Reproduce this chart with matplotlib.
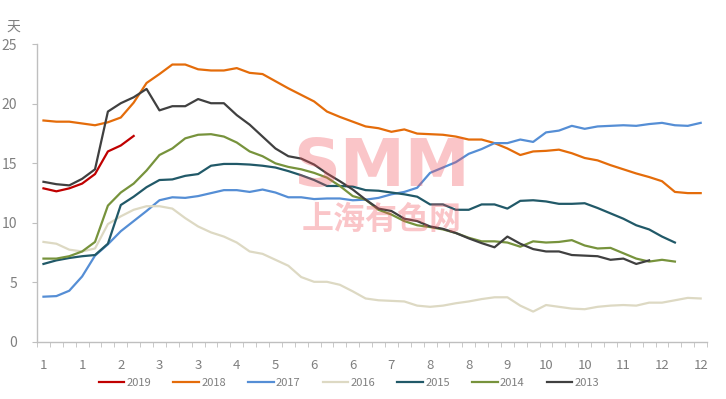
import matplotlib
matplotlib.use("Agg")
import matplotlib.pyplot as plt
import numpy as np

# weekly values, days
y2019 = [12.9, 12.65, 12.9, 13.3, 14.1, 16.0, 16.5, 17.3]
y2018 = [18.6, 18.5, 18.5, 18.35, 18.2, 18.45, 18.85, 20.1, 21.75, 22.5, 23.3, 23.3, 22.9, 22.8,
         22.8, 23.0, 22.6, 22.5, 21.9, 21.3, 20.75, 20.2, 19.35, 18.9, 18.5, 18.1, 17.95,
         17.65, 17.85, 17.5, 17.45, 17.4, 17.25, 17.0, 17.0, 16.7, 16.25, 15.7, 16.0, 16.05,
         16.15, 15.85, 15.45, 15.25, 14.85, 14.5, 14.15, 13.85, 13.5, 12.6, 12.5, 12.5]
y2017 = [3.8, 3.85, 4.3, 5.5, 7.25, 8.2, 9.3, 10.15, 11.0, 11.9, 12.15, 12.1, 12.25, 12.5,
         12.75, 12.75, 12.6, 12.8, 12.55, 12.15, 12.15, 12.0, 12.05, 12.05, 11.9, 11.95, 12.1,
         12.4, 12.6, 12.95, 14.2, 14.65, 15.1, 15.8, 16.2, 16.7, 16.7, 17.0, 16.8, 17.6,
         17.75, 18.15, 17.9, 18.1, 18.15, 18.2, 18.15, 18.3, 18.4, 18.2, 18.15, 18.4]
y2016 = [8.4, 8.25, 7.75, 7.6, 7.85, 9.9, 10.55, 11.1, 11.4, 11.4, 11.2, 10.4, 9.7, 9.2,
         8.85, 8.35, 7.6, 7.4, 6.9, 6.4, 5.45, 5.05, 5.05, 4.8, 4.25, 3.65, 3.5,
         3.45, 3.4, 3.05, 2.95, 3.05, 3.25, 3.4, 3.6, 3.75, 3.75, 3.05, 2.55, 3.1,
         2.95, 2.8, 2.75, 2.95, 3.05, 3.1, 3.05, 3.3, 3.3, 3.5, 3.7, 3.65]
y2015 = [6.55, 6.85, 7.05, 7.2, 7.3, 8.25, 11.5, 12.2, 13.0, 13.6, 13.65, 13.95, 14.1, 14.8,
         14.95, 14.95, 14.9, 14.8, 14.65, 14.35, 14.0, 13.6, 13.1, 13.1, 13.05, 12.75, 12.7,
         12.55, 12.4, 12.2, 11.55, 11.55, 11.1, 11.1, 11.55, 11.55, 11.2, 11.85, 11.9, 11.8,
         11.6, 11.6, 11.65, 11.25, 10.8, 10.35, 9.8, 9.45, 8.85, 8.35]
y2014 = [7.0, 7.0, 7.2, 7.6, 8.4, 11.45, 12.55, 13.3, 14.4, 15.7, 16.25, 17.1, 17.4, 17.45,
         17.25, 16.75, 16.0, 15.6, 15.0, 14.7, 14.5, 14.2, 13.8, 13.1, 12.25, 11.95, 11.1,
         10.7, 10.15, 9.8, 9.65, 9.45, 9.15, 8.75, 8.45, 8.45, 8.35, 8.0, 8.45, 8.35,
         8.4, 8.55, 8.1, 7.85, 7.9, 7.45, 7.0, 6.75, 6.9, 6.75]
y2013 = [13.45, 13.25, 13.15, 13.7, 14.5, 19.35, 20.05, 20.55, 21.25, 19.45, 19.8, 19.8, 20.4, 20.05,
         20.05, 19.05, 18.25, 17.25, 16.25, 15.6, 15.4, 14.9, 14.15, 13.5, 12.8, 11.95, 11.2,
         11.0, 10.35, 10.15, 9.7, 9.5, 9.15, 8.7, 8.3, 7.95, 8.85, 8.25, 7.8, 7.6,
         7.6, 7.3, 7.25, 7.2, 6.9, 7.0, 6.55, 6.85]

series = [("2019", y2019, "#C00000"), ("2018", y2018, "#E46C0A"),
          ("2017", y2017, "#558ED5"), ("2016", y2016, "#DDD9C3"),
          ("2015", y2015, "#215968"), ("2014", y2014, "#77933C"),
          ("2013", y2013, "#404040")]

# month label under every third week
month_labels = ["1", "1", "2", "3", "3", "4", "5", "6", "6", "7", "8", "8",
                "9", "10", "10", "11", "12", "12"]

plt.rcParams['font.family'] = ['Noto Sans CJK SC', 'DejaVu Sans']
grey = "#7f7f7f"

fig = plt.figure(figsize=(7.26, 3.99), dpi=100)
ax = fig.add_axes([0.051, 0.143, 0.923, 0.746])

for name, vals, col in series:
    ax.plot(np.arange(len(vals)), vals, color=col, lw=1.6, label=name,
            solid_joinstyle="round")

n_weeks = 52
ax.set_xlim(-0.5, n_weeks - 0.5)
ax.set_ylim(0, 25)
ax.set_yticks(range(0, 26, 5))
ax.set_xticks(np.arange(0, n_weeks, 3))
ax.set_xticklabels(month_labels)
ax.set_xticks(np.arange(-0.5, n_weeks, 1), minor=True)
ax.tick_params(axis="x", which="major", length=0, pad=12, labelsize=9.5, labelcolor=grey)
ax.tick_params(axis="x", which="minor", length=3.5, color="#bfbfbf", direction="out")
ax.tick_params(axis="y", length=3.5, color="#bfbfbf", pad=11, labelsize=10, labelcolor=grey)

for s in ["top", "right"]:
    ax.spines[s].set_visible(False)
for s in ["left", "bottom"]:
    ax.spines[s].set_color("#bfbfbf")
    ax.spines[s].set_linewidth(1)

fig.text(13 / 726, 1 - 27 / 399, "天", color=grey, fontsize=10, ha="center", va="center")

# watermark
ax.text(382 / 726, 1 - 168 / 399, "SMM", transform=fig.transFigure, fontsize=47,
        fontweight="bold", color="#F0505A", alpha=0.33, ha="center", va="center",
        family="DejaVu Sans", zorder=5)
ax.text(382 / 726, 1 - 220 / 399, "上海有色网", transform=fig.transFigure, fontsize=23,
        fontweight="bold", color="#F0505A", alpha=0.33, ha="center", va="center", zorder=5)

fig.legend(loc="center", bbox_to_anchor=(349 / 726, 1 - 383 / 399), ncol=7, frameon=False,
           fontsize=8, handlelength=2.3, handletextpad=0.2, columnspacing=2.0,
           labelcolor=grey)

fig.savefig("out.png", dpi=100)
